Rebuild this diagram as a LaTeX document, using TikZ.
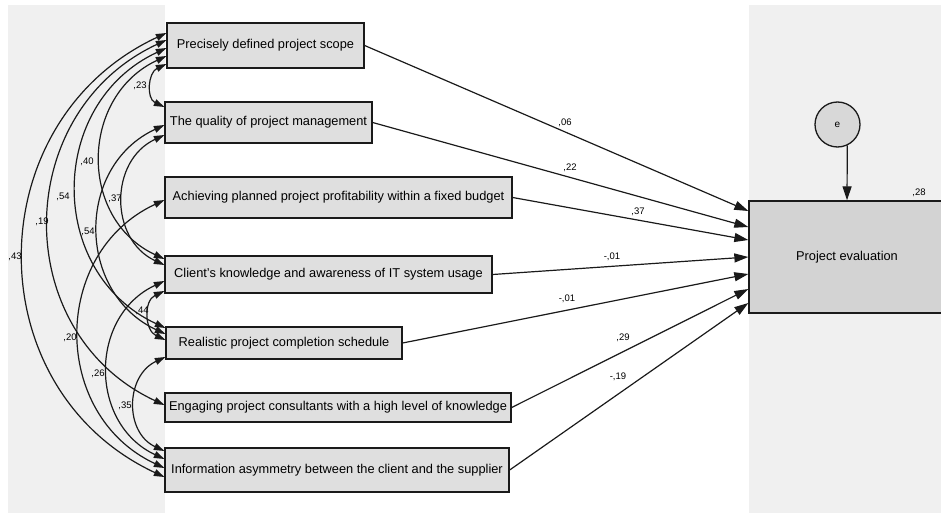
\documentclass[tikz,border=0pt]{standalone}
\usepackage{fontspec}
\setmainfont{Liberation Sans}
\usetikzlibrary{arrows.meta}
\definecolor{panel}{HTML}{F0F0F0}
\definecolor{boxfill}{HTML}{DFDFDF}
\definecolor{pefill}{HTML}{D3D3D3}
\definecolor{efill}{HTML}{D8D8D8}
\definecolor{linec}{HTML}{1A1A1A}
\begin{document}
\begin{tikzpicture}[x=1pt,y=-1pt,
  varbox/.style={draw=linec, line width=1.3pt, fill=boxfill, inner sep=0pt, font=\fontsize{12.8}{15}\selectfont},
  coef/.style={inner sep=0pt, font=\fontsize{9.5}{11}\selectfont},
  patharrow/.style={draw=linec, line width=1.2pt, -{Triangle[length=14pt,width=9pt]}},
  cov/.style={draw=linec, line width=1.2pt, {Triangle[length=10.5pt,width=7pt]}-{Triangle[length=10.5pt,width=7pt]}, out=205, in=155, looseness=1.2},
]
\useasboundingbox (0,0) rectangle (941,513);
\clip (0,0) rectangle (941,513);
\fill[panel] (8,5) rectangle (165,513);
\fill[panel] (749,5) rectangle (941,513);

% observed variables
\node[varbox, minimum width=197pt, minimum height=45pt] (b1) at (265.5,45.5) {Precisely defined project scope};
\node[varbox, minimum width=207pt, minimum height=41pt] (b2) at (268.5,122.5) {The quality of project management};
\node[varbox, minimum width=347pt, minimum height=41pt] (b3) at (338.5,197.5) {Achieving planned project profitability within a fixed budget};
\node[varbox, minimum width=327pt, minimum height=37pt] (b4) at (328.5,274.5) {Client's knowledge and awareness of IT system usage};
\node[varbox, minimum width=236pt, minimum height=32pt] (b5) at (284,343) {Realistic project completion schedule};
\node[varbox, minimum width=346pt, minimum height=29pt] (b6) at (338,407.5) {Engaging project consultants with a high level of knowledge};
\node[varbox, minimum width=344pt, minimum height=44pt] (b7) at (337,470) {Information asymmetry between the client and the supplier};

% dependent variable and error
\node[draw=linec, line width=1.3pt, fill=pefill, minimum width=196pt, minimum height=112pt, inner sep=0pt, font=\fontsize{12.8}{15}\selectfont] (pe) at (847,257) {Project evaluation};
\node[circle, draw=linec, line width=1.3pt, fill=efill, minimum size=45pt, inner sep=0pt, font=\fontsize{10}{12}\selectfont] (e) at (837.5,124.5) {e};
\draw[patharrow] (e.-65) -- (pe.north);
\node[coef] (r2) at (919,193) {,28};

% regression paths
\draw[patharrow] (b1.east) -- ([yshift=46pt]pe.west);
\draw[patharrow] (b2.east) -- ([yshift=30pt]pe.west);
\draw[patharrow] (b3.east) -- ([yshift=17pt]pe.west);
\draw[patharrow] (b4.east) -- (pe.west);
\draw[patharrow] (b5.east) -- ([yshift=-17pt]pe.west);
\draw[patharrow] (b6.east) -- ([yshift=-32pt]pe.west);
\draw[patharrow] (b7.east) -- ([yshift=-46pt]pe.west);

\node[coef] (p1) at (565,123) {,06};
\node[coef] (p2) at (570,168) {,22};
\node[coef] (p3) at (638,212) {,37};
\node[coef] (p4) at (612,257) {-,01};
\node[coef] (p5) at (567,299) {-,01};
\node[coef] (p6) at (623,338) {,29};
\node[coef] (p7) at (618,377) {-,19};

% covariances
\draw[cov] ([yshift=12.5pt]b1.west) to ([yshift=-7pt]b7.west);
\draw[cov] ([yshift=5.5pt]b1.west) to ([yshift=2.5pt]b6.west);
\draw[cov] ([yshift=-2.5pt]b1.west) to ([yshift=15pt]b5.west);
\draw[cov] ([yshift=-10.5pt]b1.west) to ([yshift=15.5pt]b4.west);
\draw[cov] ([yshift=-18.5pt]b1.west) to ([yshift=15.5pt]b2.west);
\draw[cov] ([yshift=-2.5pt]b2.west) to ([yshift=9pt]b5.west);
\draw[cov] ([yshift=-12.5pt]b2.west) to ([yshift=9.5pt]b4.west);
\draw[cov] ([yshift=-2.5pt]b3.west) to ([yshift=2pt]b7.west);
\draw[cov] ([yshift=-6.5pt]b4.west) to ([yshift=11pt]b7.west);
\draw[cov] ([yshift=-16.5pt]b4.west) to ([yshift=3pt]b5.west);
\draw[cov] ([yshift=-14pt]b5.west) to ([yshift=19pt]b7.west);

\node[coef] (c17) at (15,257) {,43};
\node[coef] (c16) at (42,222) {,19};
\node[coef] (c15) at (63,197) {,54};
\node[coef] (c14) at (87,162) {,40};
\node[coef] (c12) at (140,86) {,23};
\node[coef] (c25) at (88,232) {,54};
\node[coef] (c24) at (115,199) {,37};
\node[coef] (c37) at (70,338) {,20};
\node[coef] (c47) at (98,374) {,26};
\node[coef] (c45) at (142,311) {,44};
\node[coef] (c57) at (125,406) {,35};
\end{tikzpicture}
\end{document}
